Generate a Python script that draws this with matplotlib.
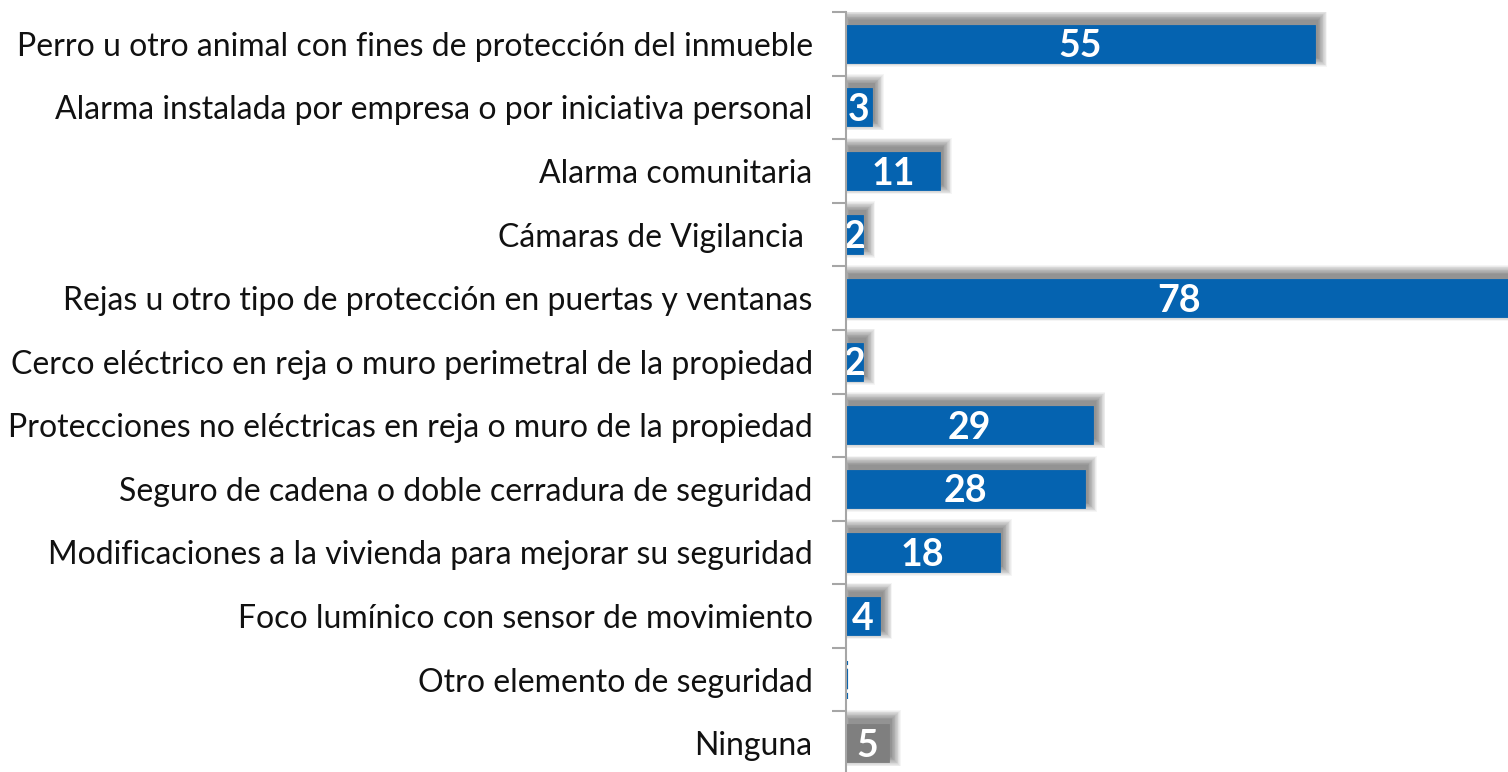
import numpy as np
import matplotlib
matplotlib.use('Agg')
import matplotlib.pyplot as plt
from matplotlib.patches import Rectangle

# Data
categories = [
    'Perro u otro animal con fines de protección del inmueble',
    'Alarma instalada por empresa o por iniciativa personal',
    'Alarma comunitaria',
    'Cámaras de Vigilancia ',
    'Rejas u otro tipo de protección en puertas y ventanas',
    'Cerco eléctrico en reja o muro perimetral de la propiedad',
    'Protecciones no eléctricas en reja o muro de la propiedad',
    'Seguro de cadena o doble cerradura de seguridad',
    'Modificaciones a la vivienda para mejorar su seguridad',
    'Foco lumínico con sensor de movimiento',
    'Otro elemento de seguridad',
    'Ninguna',
]
values = [55, 3, 11, 2, 78, 2, 29, 28, 18, 4, 0, 5]

blue = '#0563b0'
gray = '#7f7f7f'
colors = [blue] * 11 + [gray]

W, H = 1508, 772
fig = plt.figure(figsize=(W / 100, H / 100), dpi=100)
ax_left = 846 / W
ax_top = 1 - 12 / H
ax_bottom = -3 / H
ax = fig.add_axes([ax_left, ax_bottom, 1 - ax_left, ax_top - ax_bottom])

n = len(categories)
xmax = 77.6
ax.set_xlim(0, xmax)
ax.set_ylim(n - 0.5, -0.5)

# pixel size in data units (for the soft shadow)
px_x = xmax / (W - 846)
px_y = n / ((ax_top - ax_bottom) * H)

bh = 0.6
ypos = np.arange(n)

# soft shadow, offset up and right, built from stacked translucent layers
dx, dy = 3, 5
for i, v in enumerate(values):
    if v == 0:
        continue
    for k in range(0, 13):
        g = k * 0.75
        r = Rectangle((dx * px_x - g * px_x, ypos[i] - bh / 2 - dy * px_y - g * px_y),
                      v + 2 * g * px_x, bh + 2 * g * px_y,
                      facecolor='black', alpha=0.038, lw=0, zorder=1)
        ax.add_patch(r)

lws = [3 if v == 0 else 0.6 for v in values]
bars = ax.barh(ypos, values, height=bh, color=colors, zorder=3,
               edgecolor=colors, linewidth=lws)

for i, v in enumerate(values):
    ax.text(v / 2, ypos[i] + 0.04, str(v), ha='center', va='center',
            color='white', fontsize=27, fontweight='bold', family='Lato',
            zorder=4)

ax.set_yticks(ypos)
ax.set_yticklabels(categories, fontsize=23, family='Lato', color='#111111')
ax.tick_params(axis='y', which='major', length=0, pad=24)
ax.set_yticks(np.arange(n + 1) - 0.5, minor=True)
ax.tick_params(axis='y', which='minor', length=10, width=1.5, color='#a6a6a6')
ax.set_xticks([])

for sp in ['top', 'right', 'bottom']:
    ax.spines[sp].set_visible(False)
ax.spines['left'].set_color('#a6a6a6')
ax.spines['left'].set_linewidth(1.5)
ax.spines['left'].set_zorder(5)

fig.savefig('out.png', dpi=100)
